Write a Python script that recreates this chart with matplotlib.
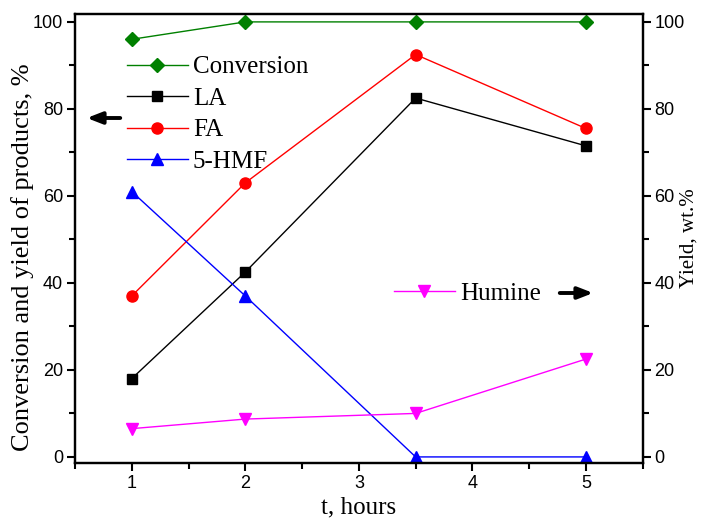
import numpy as np
import matplotlib
matplotlib.use('Agg')
import matplotlib.pyplot as plt
from matplotlib.ticker import MultipleLocator

# data
t = [1, 2, 3.5, 5]
conversion = [96, 100, 100, 100]
la = [18, 42.5, 82.5, 71.5]
fa = [37, 63, 92.5, 75.5]
hmf = [61, 37, 0, 0]
humine = [6.5, 8.7, 10, 22.5]

serif = 'Liberation Serif'
sans = 'Liberation Sans'

fig = plt.figure(figsize=(7.04, 5.21), dpi=100)
ax = fig.add_axes([0.1065, 0.1113, 0.8065, 0.8617])
ax2 = ax.twinx()

ax.plot(t, conversion, color='#008000', marker='D', ms=7, lw=1, label='Conversion')
ax.plot(t, la, color='black', marker='s', ms=7, lw=1, label='LA')
ax.plot(t, fa, color='red', marker='o', ms=8, lw=1, label='FA')
ax.plot(t, hmf, color='blue', marker='^', ms=8, lw=1, label='5-HMF')
ax2.plot(t, humine, color='magenta', marker='v', ms=8, lw=1, label='Humine')

for a in (ax, ax2):
    a.set_xlim(0.5, 5.5)
    a.set_ylim(-1.4, 101.8)
    a.yaxis.set_major_locator(MultipleLocator(20))
    a.yaxis.set_minor_locator(MultipleLocator(10))
    for s in a.spines.values():
        s.set_linewidth(1.6)
    a.tick_params(which='major', direction='out', length=6, width=1.5, labelsize=13, pad=2.5)
    a.tick_params(which='minor', direction='out', length=4, width=1.5)
    for lbl in a.get_yticklabels() + a.get_xticklabels():
        lbl.set_fontfamily(sans)

ax.xaxis.set_major_locator(MultipleLocator(1))
ax.xaxis.set_minor_locator(MultipleLocator(0.5))

ax.set_xlabel('t, hours', fontfamily=serif, fontsize=18, labelpad=3)
ax.set_ylabel('Conversion and yield of products, %', fontfamily=serif, fontsize=19)
ax.yaxis.set_label_coords(-0.072, 0.459)
ax2.set_ylabel('Yield, wt.%', fontfamily=serif, fontsize=15)
ax2.yaxis.set_label_coords(1.064, 0.5)

leg1 = ax.legend(loc='upper left', bbox_to_anchor=(0.0915, 0.907), frameon=False,
                 prop={'family': serif, 'size': 18}, handlelength=2.44,
                 labelspacing=0.36, handletextpad=0.2, borderpad=0, borderaxespad=0)
leg2 = ax2.legend(loc='upper left', bbox_to_anchor=(0.5616, 0.403), frameon=False,
                  prop={'family': serif, 'size': 18}, handlelength=2.44,
                  handletextpad=0.2, borderpad=0, borderaxespad=0)

# arrows pointing to the axes
W, H = 704, 521
ax.annotate('', xy=(84 / W, 1 - 118 / H), xytext=(123 / W, 1 - 118 / H),
            xycoords='figure fraction', textcoords='figure fraction',
            arrowprops=dict(arrowstyle='-|>,head_width=0.35,head_length=0.9',
                            color='black', lw=2.8))
ax.annotate('', xy=(596 / W, 1 - 293 / H), xytext=(557 / W, 1 - 293 / H),
            xycoords='figure fraction', textcoords='figure fraction',
            arrowprops=dict(arrowstyle='-|>,head_width=0.35,head_length=0.9',
                            color='black', lw=2.8))

fig.savefig('out.png', dpi=100)
